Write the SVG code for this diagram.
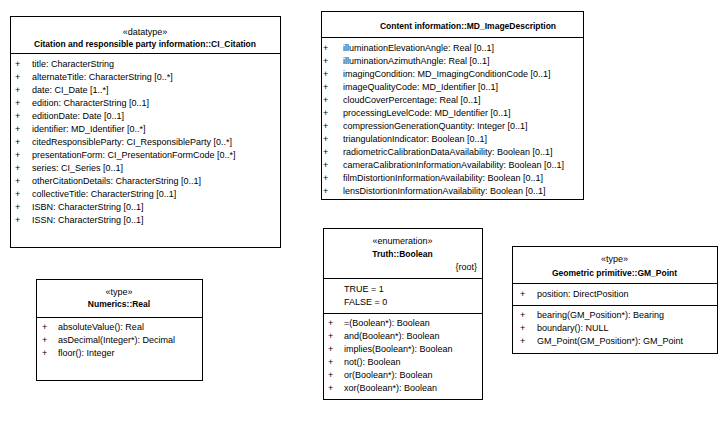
<svg xmlns="http://www.w3.org/2000/svg" width="728" height="429" viewBox="0 0 728 429">
<style>
  .box { fill: #ffffff; stroke: #000000; stroke-width: 1; }
  .div { stroke: #000000; stroke-width: 1; fill: none; }
  text { font-family: "Liberation Sans", Arial, sans-serif; font-size: 9px; fill: #000000; }
  .st { text-anchor: middle; }
  .nm { text-anchor: middle; font-weight: bold; font-size: 8.5px; }
  .rt { text-anchor: end; }
</style>
<rect x="0" y="0" width="728" height="429" fill="#ffffff"/>

<g id="CI_Citation">
  <rect class="box" x="10.5" y="16.5" width="270" height="231"/>
  <line class="div" x1="10.5" y1="53.5" x2="280.5" y2="53.5"/>
  <text class="st" x="145" y="34.8">«datatype»</text>
  <text class="nm" x="145" y="46.5">Citation and responsible party information::CI_Citation</text>
  <text x="15" y="66.5">+</text><text x="32" y="66.5">title: CharacterString</text>
  <text x="15" y="79.5">+</text><text x="32" y="79.5">alternateTitle: CharacterString [0..*]</text>
  <text x="15" y="92.5">+</text><text x="32" y="92.5">date: CI_Date [1..*]</text>
  <text x="15" y="105.5">+</text><text x="32" y="105.5">edition: CharacterString [0..1]</text>
  <text x="15" y="118.5">+</text><text x="32" y="118.5">editionDate: Date [0..1]</text>
  <text x="15" y="131.5">+</text><text x="32" y="131.5">identifier: MD_Identifier [0..*]</text>
  <text x="15" y="144.5">+</text><text x="32" y="144.5">citedResponsibleParty: CI_ResponsibleParty [0..*]</text>
  <text x="15" y="157.5">+</text><text x="32" y="157.5">presentationForm: CI_PresentationFormCode [0..*]</text>
  <text x="15" y="170.5">+</text><text x="32" y="170.5">series: CI_Series [0..1]</text>
  <text x="15" y="183.5">+</text><text x="32" y="183.5">otherCitationDetails: CharacterString [0..1]</text>
  <text x="15" y="196.5">+</text><text x="32" y="196.5">collectiveTitle: CharacterString [0..1]</text>
  <text x="15" y="209.5">+</text><text x="32" y="209.5">ISBN: CharacterString [0..1]</text>
  <text x="15" y="222.5">+</text><text x="32" y="222.5">ISSN: CharacterString [0..1]</text>
</g>

<g id="MD_ImageDescription">
  <rect class="box" x="321.5" y="11.5" width="262" height="188"/>
  <line class="div" x1="321.5" y1="37.5" x2="583.5" y2="37.5"/>
  <text class="nm" x="468" y="28.7">Content information::MD_ImageDescription</text>
  <text x="323" y="51">+</text><text x="343" y="51">illuminationElevationAngle: Real [0..1]</text>
  <text x="323" y="64">+</text><text x="343" y="64">illuminationAzimuthAngle: Real [0..1]</text>
  <text x="323" y="77">+</text><text x="343" y="77">imagingCondition: MD_ImagingConditionCode [0..1]</text>
  <text x="323" y="90">+</text><text x="343" y="90">imageQualityCode: MD_Identifier [0..1]</text>
  <text x="323" y="103">+</text><text x="343" y="103">cloudCoverPercentage: Real [0..1]</text>
  <text x="323" y="116">+</text><text x="343" y="116">processingLevelCode: MD_Identifier [0..1]</text>
  <text x="323" y="129">+</text><text x="343" y="129">compressionGenerationQuantity: Integer [0..1]</text>
  <text x="323" y="142">+</text><text x="343" y="142">triangulationIndicator: Boolean [0..1]</text>
  <text x="323" y="155">+</text><text x="343" y="155">radiometricCalibrationDataAvailability: Boolean [0..1]</text>
  <text x="323" y="168">+</text><text x="343" y="168">cameraCalibrationInformationAvailability: Boolean [0..1]</text>
  <text x="323" y="181">+</text><text x="343" y="181">filmDistortionInformationAvailability: Boolean [0..1]</text>
  <text x="323" y="194">+</text><text x="343" y="194">lensDistortionInformationAvailability: Boolean [0..1]</text>
</g>

<g id="Numerics_Real">
  <rect class="box" x="36.5" y="279.5" width="166" height="101"/>
  <line class="div" x1="36.5" y1="317.5" x2="202.5" y2="317.5"/>
  <text class="st" x="119" y="295.2">«type»</text>
  <text class="nm" x="119" y="307.3">Numerics::Real</text>
  <text x="42" y="330.2">+</text><text x="58" y="330.2">absoluteValue(): Real</text>
  <text x="42" y="343.2">+</text><text x="58" y="343.2">asDecimal(Integer*): Decimal</text>
  <text x="42" y="356.2">+</text><text x="58" y="356.2">floor(): Integer</text>
</g>

<g id="Truth_Boolean">
  <rect class="box" x="323.5" y="228.5" width="159" height="171"/>
  <line class="div" x1="323.5" y1="278.5" x2="482.5" y2="278.5"/>
  <line class="div" x1="323.5" y1="313.5" x2="482.5" y2="313.5"/>
  <text class="st" x="402.5" y="244.2">«enumeration»</text>
  <text class="nm" x="402.5" y="257">Truth::Boolean</text>
  <text class="rt" x="477" y="270.2">{root}</text>
  <text x="344" y="292.2">TRUE = 1</text>
  <text x="344" y="305.2">FALSE = 0</text>
  <text x="328" y="326.2">+</text><text x="344" y="326.2">=(Boolean*): Boolean</text>
  <text x="328" y="339.2">+</text><text x="344" y="339.2">and(Boolean*): Boolean</text>
  <text x="328" y="352.2">+</text><text x="344" y="352.2">implies(Boolean*): Boolean</text>
  <text x="328" y="365.2">+</text><text x="344" y="365.2">not(): Boolean</text>
  <text x="328" y="378.2">+</text><text x="344" y="378.2">or(Boolean*): Boolean</text>
  <text x="328" y="391.2">+</text><text x="344" y="391.2">xor(Boolean*): Boolean</text>
</g>

<g id="GM_Point">
  <rect class="box" x="512.5" y="246.5" width="205" height="107"/>
  <line class="div" x1="512.5" y1="283.5" x2="717.5" y2="283.5"/>
  <line class="div" x1="512.5" y1="305.5" x2="717.5" y2="305.5"/>
  <text class="st" x="614.5" y="262.2">«type»</text>
  <text class="nm" x="614.5" y="276.3">Geometric primitive::GM_Point</text>
  <text x="520" y="296.5">+</text><text x="537" y="296.5">position: DirectPosition</text>
  <text x="520" y="318.2">+</text><text x="537" y="318.2">bearing(GM_Position*): Bearing</text>
  <text x="520" y="331.2">+</text><text x="537" y="331.2">boundary(): NULL</text>
  <text x="520" y="344.2">+</text><text x="537" y="344.2">GM_Point(GM_Position*): GM_Point</text>
</g>

<g id="connectors"></g>
</svg>
